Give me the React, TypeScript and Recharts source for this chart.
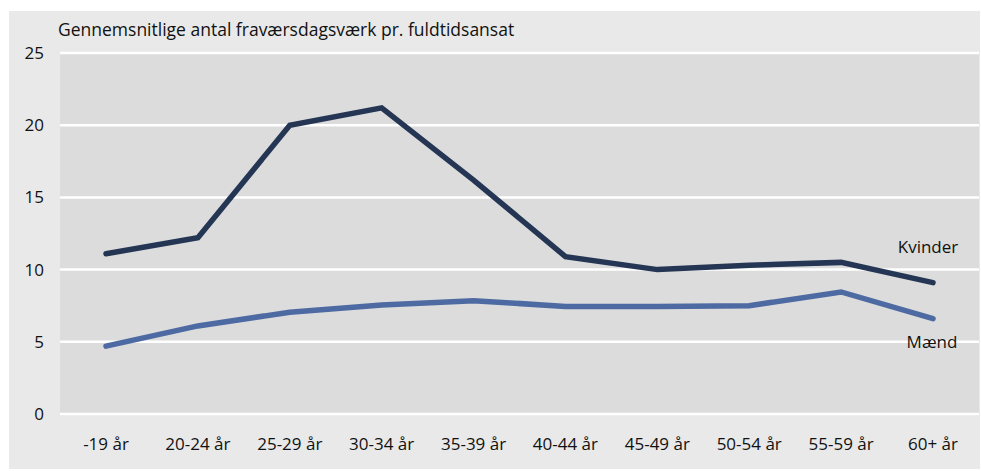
import React from 'react';
import { LineChart, Line, XAxis, YAxis, CartesianGrid, LabelList } from 'recharts';

const ageGroups = ['-19 år', '20-24 år', '25-29 år', '30-34 år', '35-39 år', '40-44 år', '45-49 år', '50-54 år', '55-59 år', '60+ år'];
const kvinder = [11.1, 12.2, 20.0, 21.2, 16.2, 10.9, 10.0, 10.3, 10.5, 9.1];
const maend = [4.7, 6.1, 7.05, 7.55, 7.85, 7.45, 7.45, 7.5, 8.45, 6.6];
const yTicks = [0, 5, 10, 15, 20, 25];

const data = ageGroups.map((age, i) => ({ age, kvinder: kvinder[i], maend: maend[i] }));

const FONT = '"Open Sans", sans-serif';

// label only at the last point of a series
const endLabel = (text: string, dx: number, dy: number) => (props: any) => {
  if (props.index !== ageGroups.length - 1) return null;
  return (
    <text
      x={props.x + dx}
      y={props.y + dy}
      textAnchor="middle"
      dominantBaseline="central"
      fill="#111"
      fontSize={17}
      fontFamily={FONT}
    >
      {text}
    </text>
  );
};

const App: React.FC = () => {
  return (
    <div style={{ position: 'fixed', left: 9, top: 11, width: 971, height: 458, background: '#e9e9e9', fontFamily: FONT }}>
      <div style={{ position: 'absolute', left: 49, top: 6, fontSize: 17.5, color: '#111', whiteSpace: 'nowrap' }}>
        Gennemsnitlige antal fraværsdagsværk pr. fuldtidsansat
      </div>
      <LineChart width={971} height={458} data={data} margin={{ top: 42, right: 1, left: 0, bottom: 0 }}>
        <CartesianGrid vertical={false} fill="#dcdcdc" stroke="#ffffff" strokeWidth={2.5} />
        <XAxis
          dataKey="age"
          height={55}
          axisLine={false}
          tickLine={false}
          tickMargin={18}
          interval={0}
          padding={{ left: 46, right: 46 }}
          tick={{ fill: '#111', fontSize: 17, fontFamily: FONT }}
        />
        <YAxis
          width={51}
          domain={[0, 25]}
          ticks={yTicks}
          axisLine={false}
          tickLine={false}
          tickMargin={10}
          tick={{ fill: '#111', fontSize: 17, fontFamily: FONT }}
        />
        <Line
          dataKey="kvinder"
          stroke="#243654"
          strokeWidth={5.5}
          strokeLinecap="round"
          dot={false}
          activeDot={false}
          isAnimationActive={false}
        >
          <LabelList dataKey="kvinder" content={endLabel('Kvinder', -5, -36)} />
        </Line>
        <Line
          dataKey="maend"
          stroke="#4d6aa3"
          strokeWidth={5.5}
          strokeLinecap="round"
          dot={false}
          activeDot={false}
          isAnimationActive={false}
        >
          <LabelList dataKey="maend" content={endLabel('Mænd', -1, 23)} />
        </Line>
      </LineChart>
    </div>
  );
};

export default App;
